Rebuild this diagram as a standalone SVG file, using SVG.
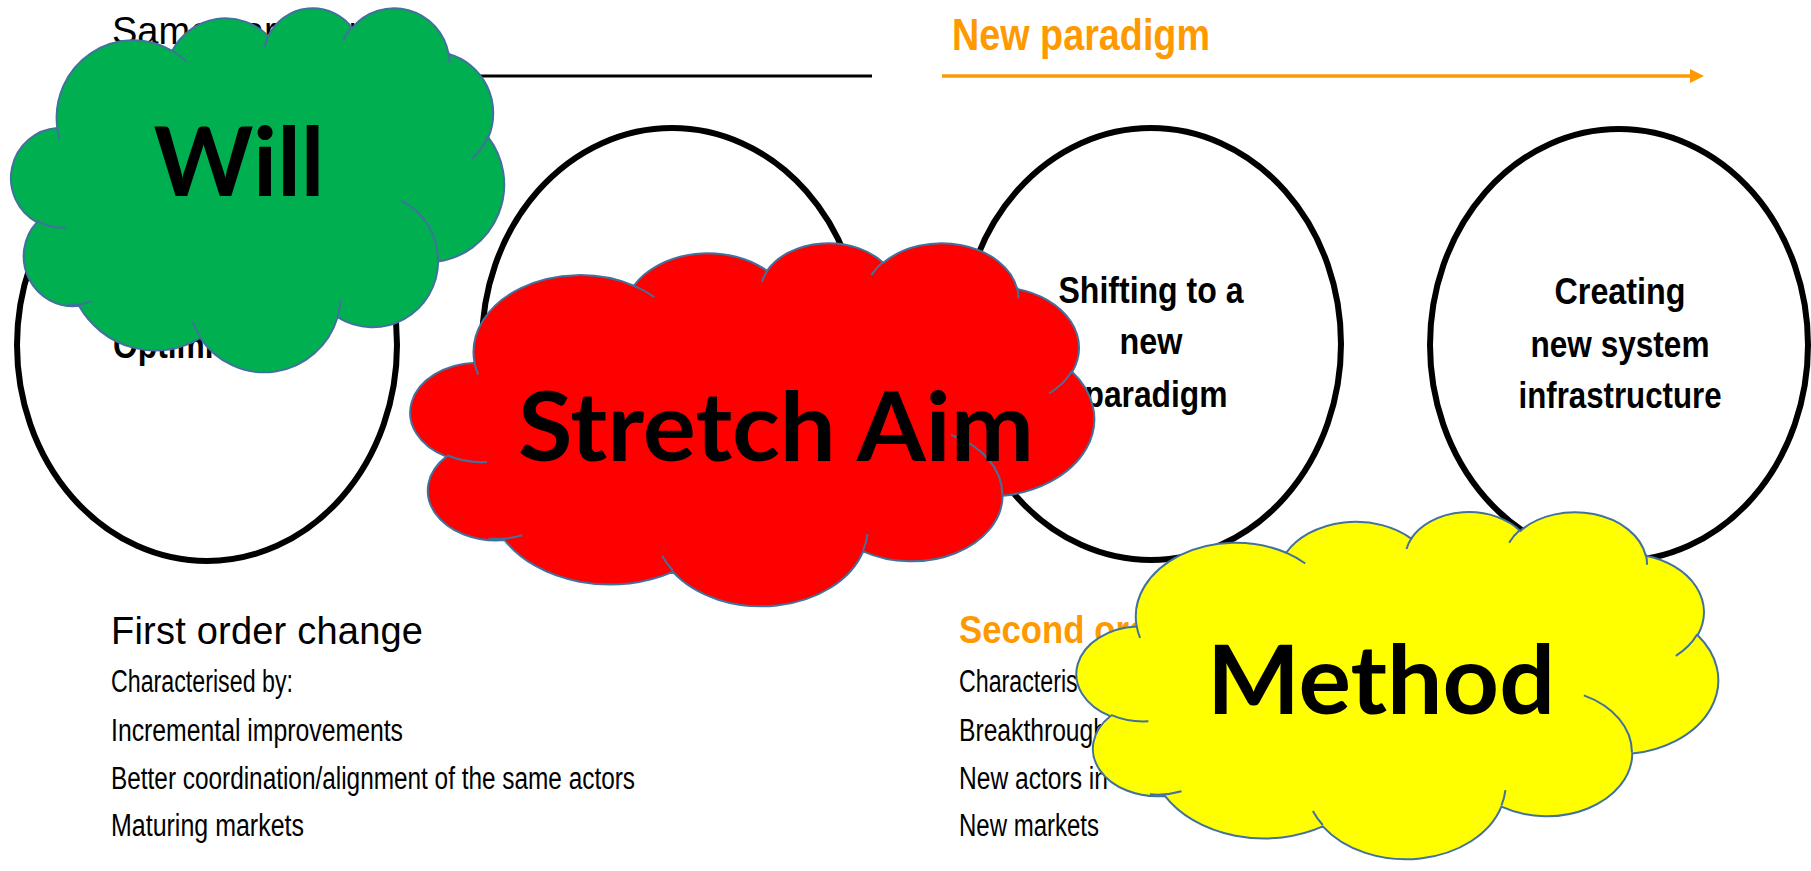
<svg xmlns="http://www.w3.org/2000/svg" width="1811" height="871" viewBox="0 0 1811 871">
<defs>
<style>
.ell{fill:#fff;stroke:#000;stroke-width:6}
.et{font-family:"Liberation Sans",Arial,sans-serif;font-weight:700;font-size:37.5px;fill:#000}
.mid{text-anchor:middle}
.cl{stroke:#41719C;stroke-width:2;vector-effect:non-scaling-stroke}
.ci{fill:none;stroke:#41719C;stroke-width:2;vector-effect:non-scaling-stroke}
.big{font-family:Lato,"Open Sans",sans-serif;font-weight:700;font-size:96px;fill:#000;text-anchor:middle}
.hd{font-family:"Liberation Sans",Arial,sans-serif;font-size:38px;fill:#000}
.or{font-family:"Liberation Sans",Arial,sans-serif;font-weight:700;fill:#FF9900}
.bl{font-family:"Liberation Sans",Arial,sans-serif;font-size:31px;fill:#000}
</style>
<marker id="ah" markerUnits="userSpaceOnUse" markerWidth="16" markerHeight="16" refX="1" refY="7" orient="auto">
<path d="M0,0 L14,7 L0,14 Z" fill="#FF9900"/>
</marker>
</defs>
<rect width="1811" height="871" fill="#fff"/>

<g id="headers">
<text class="hd" x="112" y="44" font-size="34">Same paradigm</text>
<text class="or" x="952" y="50" font-size="44" textLength="258" lengthAdjust="spacingAndGlyphs">New paradigm</text>
</g>

<g id="connectors">
<line x1="200" y1="76" x2="872" y2="76" stroke="#000" stroke-width="3"/>
<line x1="942" y1="76" x2="1691" y2="76" stroke="#FF9900" stroke-width="3.5" marker-end="url(#ah)"/>
</g>

<g id="ellipse1">
<ellipse class="ell" cx="207" cy="345" rx="190" ry="216"/>
<text class="et" x="113" y="358" textLength="166" lengthAdjust="spacingAndGlyphs">Optimising</text>
</g>
<g id="ellipse2">
<ellipse class="ell" cx="672" cy="344" rx="190" ry="216"/>
</g>
<g id="ellipse3">
<ellipse class="ell" cx="1151" cy="344" rx="190" ry="216"/>
<text class="et mid" x="1151" y="303" textLength="185" lengthAdjust="spacingAndGlyphs">Shifting to a</text>
<text class="et mid" x="1151" y="354" textLength="63" lengthAdjust="spacingAndGlyphs">new</text>
<text class="et mid" x="1156" y="407" textLength="143" lengthAdjust="spacingAndGlyphs">paradigm</text>
</g>
<g id="ellipse4">
<ellipse class="ell" cx="1619" cy="345" rx="189" ry="216"/>
<text class="et mid" x="1620" y="304" textLength="131" lengthAdjust="spacingAndGlyphs">Creating</text>
<text class="et mid" x="1620" y="357" textLength="179" lengthAdjust="spacingAndGlyphs">new system</text>
<text class="et mid" x="1620" y="408" textLength="203" lengthAdjust="spacingAndGlyphs">infrastructure</text>
</g>

<g id="first-order">
<text class="hd" x="111" y="644" textLength="312" lengthAdjust="spacing">First order change</text>
<text class="bl" x="111" y="692" textLength="182" lengthAdjust="spacingAndGlyphs">Characterised by:</text>
<text class="bl" x="111" y="741" textLength="292" lengthAdjust="spacingAndGlyphs">Incremental improvements</text>
<text class="bl" x="111" y="789" textLength="524" lengthAdjust="spacingAndGlyphs">Better coordination/alignment of the same actors</text>
<text class="bl" x="111" y="836" textLength="193" lengthAdjust="spacingAndGlyphs">Maturing markets</text>
</g>

<g id="second-order">
<text class="or" x="959" y="643" font-size="39" textLength="224" lengthAdjust="spacingAndGlyphs">Second order</text>
<text class="bl" x="959" y="692" textLength="182" lengthAdjust="spacingAndGlyphs">Characterised by:</text>
<text class="bl" x="959" y="741" textLength="148" lengthAdjust="spacingAndGlyphs">Breakthrough</text>
<text class="bl" x="959" y="789" textLength="149" lengthAdjust="spacingAndGlyphs">New actors in</text>
<text class="bl" x="959" y="836" textLength="140" lengthAdjust="spacingAndGlyphs">New markets</text>
</g>

<g id="cloud-will">
<g transform="translate(13,7) scale(1.1366,0.8426)">
<path class="cl" fill="#00B050" d="M39,143.7A67.53,91.9 0 0 1 140.06,52.03A53.33,72.67 0 0 1 224.57,34.33A43.65,59.45 0 0 1 298.35,24.82A48.57,65.95 0 0 1 383.2,55.78A53.33,72.73 0 0 1 418.21,154.62A67.75,92.2 0 0 1 374.05,302.02A57.85,78.67 0 0 1 285.56,368.12A67.52,92.15 0 0 1 164.81,392.63A77.2,105.43 0 0 1 58.06,354.68A43.6,59.18 0 0 1 21.14,255.46A43.45,59.45 0 0 1 39,143.7Z"/>
<path class="ci" d="M46.93,261.77A43.45,59.45 0 0 1 21.6,253.8M69.28,348.99A43.6,59.18 0 0 1 47.95,352.8M164.78,390.9A67.52,92.15 0 0 1 158.1,373.52M288.27,347.51A67.52,92.15 0 0 1 285.6,366.6M341.29,229.54A57.85,78.67 0 0 1 373.81,300.9M417.98,153.54A53.33,72.73 0 0 1 403.5,180.3M383.24,54.26A48.57,65.95 0 0 1 384,66.9M290.78,39.52A48.57,65.95 0 0 1 298.2,23.39M221.41,47.2A43.65,59.45 0 0 1 225,33.31M140,51.92A67.53,91.9 0 0 1 152.98,65.39M41.27,157.89A67.53,91.9 0 0 1 39,143.7"/>
</g>
<text class="big" x="239" y="196" textLength="171" lengthAdjust="spacingAndGlyphs">Will</text>
</g>

<g id="cloud-stretch">
<g transform="translate(413,242) scale(1.5764,0.8403)">
<path class="cl" fill="#FF0000" d="M39,143.7A67.53,91.9 0 0 1 140.06,52.03A53.33,72.67 0 0 1 224.57,34.33A43.65,59.45 0 0 1 298.35,24.82A48.57,65.95 0 0 1 383.2,55.78A53.33,72.73 0 0 1 418.21,154.62A67.75,92.2 0 0 1 374.05,302.02A57.85,78.67 0 0 1 285.56,368.12A67.52,92.15 0 0 1 164.81,392.63A77.2,105.43 0 0 1 58.06,354.68A43.6,59.18 0 0 1 21.14,255.46A43.45,59.45 0 0 1 39,143.7Z"/>
<path class="ci" d="M46.93,261.77A43.45,59.45 0 0 1 21.6,253.8M69.28,348.99A43.6,59.18 0 0 1 47.95,352.8M164.78,390.9A67.52,92.15 0 0 1 158.1,373.52M288.27,347.51A67.52,92.15 0 0 1 285.6,366.6M341.29,229.54A57.85,78.67 0 0 1 373.81,300.9M417.98,153.54A53.33,72.73 0 0 1 403.5,180.3M383.24,54.26A48.57,65.95 0 0 1 384,66.9M290.78,39.52A48.57,65.95 0 0 1 298.2,23.39M221.41,47.2A43.65,59.45 0 0 1 225,33.31M140,51.92A67.53,91.9 0 0 1 152.98,65.39M41.27,157.89A67.53,91.9 0 0 1 39,143.7"/>
</g>
<text class="big" x="776" y="461" textLength="516" lengthAdjust="spacingAndGlyphs">Stretch Aim</text>
</g>

<g id="cloud-method">
<g transform="translate(1079,511) scale(1.4792,0.8032)">
<path class="cl" fill="#FFFF00" d="M39,143.7A67.53,91.9 0 0 1 140.06,52.03A53.33,72.67 0 0 1 224.57,34.33A43.65,59.45 0 0 1 298.35,24.82A48.57,65.95 0 0 1 383.2,55.78A53.33,72.73 0 0 1 418.21,154.62A67.75,92.2 0 0 1 374.05,302.02A57.85,78.67 0 0 1 285.56,368.12A67.52,92.15 0 0 1 164.81,392.63A77.2,105.43 0 0 1 58.06,354.68A43.6,59.18 0 0 1 21.14,255.46A43.45,59.45 0 0 1 39,143.7Z"/>
<path class="ci" d="M46.93,261.77A43.45,59.45 0 0 1 21.6,253.8M69.28,348.99A43.6,59.18 0 0 1 47.95,352.8M164.78,390.9A67.52,92.15 0 0 1 158.1,373.52M288.27,347.51A67.52,92.15 0 0 1 285.6,366.6M341.29,229.54A57.85,78.67 0 0 1 373.81,300.9M417.98,153.54A53.33,72.73 0 0 1 403.5,180.3M383.24,54.26A48.57,65.95 0 0 1 384,66.9M290.78,39.52A48.57,65.95 0 0 1 298.2,23.39M221.41,47.2A43.65,59.45 0 0 1 225,33.31M140,51.92A67.53,91.9 0 0 1 152.98,65.39M41.27,157.89A67.53,91.9 0 0 1 39,143.7"/>
</g>
<text class="big" x="1381" y="714" textLength="348" lengthAdjust="spacingAndGlyphs">Method</text>
</g>
</svg>
